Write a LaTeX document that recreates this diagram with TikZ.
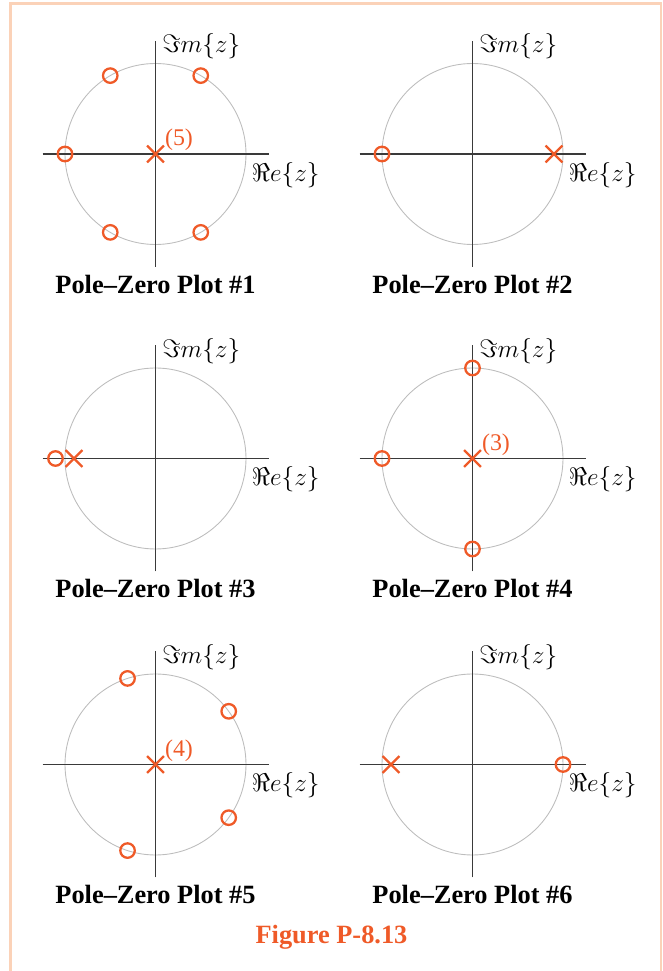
\documentclass[tikz,border=0pt]{standalone}
\usepackage{amsmath,amssymb}
\usepackage{fontspec}
\setmainfont{Liberation Serif}
\usepackage{xcolor}
\usepackage{tikz}
\usetikzlibrary{shapes.misc, calc}
\definecolor{pzorange}{HTML}{EF5A28}
\definecolor{pzgray}{HTML}{BDBDBD}
\definecolor{pzaxis}{HTML}{3A3A3A}
\definecolor{pzframe}{HTML}{FBD2B8}

\tikzset{
  unitcirc/.style={draw=pzgray, line width=0.5pt},
  axisline/.style={draw=pzaxis, line width=0.8pt},
  axlabel/.style={inner sep=0pt, font=\fontsize{13.4}{16}\selectfont},
  plottitle/.style={inner sep=0pt, font=\fontsize{15}{18}\selectfont\bfseries},
  zeromark/.style={circle, draw=pzorange, line width=1.3pt, minimum size=0.29cm, inner sep=0pt},
  polemark/.style={cross out, draw=pzorange, line width=1.3pt, minimum size=0.29cm, inner sep=0pt},
  ordlabel/.style={text=pzorange, inner sep=0pt, font=\fontsize{13.6}{16}\selectfont},
}

\begin{document}
\begin{tikzpicture}
  \useasboundingbox (0,0) rectangle (13.26,19.42);
  %% --- frame (open at the bottom) ---
  \draw[pzframe, line width=1.4pt] (0.21,0) -- (0.21,19.35) -- (13.22,19.35) -- (13.22,0);

  %% --- panel centres ---
  \coordinate (c1) at (3.11,16.34);
  \coordinate (c2) at (9.45,16.34);
  \coordinate (c3) at (3.11,10.25);
  \coordinate (c4) at (9.45,10.25);
  \coordinate (c5) at (3.11,4.13);
  \coordinate (c6) at (9.45,4.13);

  %% --- unit circle, axes and titles for all six plots ---
  \foreach \n in {1,...,6} {
    \begin{scope}[shift={(c\n)}]
      \draw[unitcirc] (0,0) circle (1.81);
      \draw[axisline] (-2.26,0) -- (2.26,0);
      \draw[axisline] (0,-2.26) -- (0,2.26);
      \node[axlabel, anchor=west] (im\n) at (0.13,2.15) {$\Im m\{z\}$};
      \node[axlabel, anchor=west] (re\n) at (1.92,-0.42) {$\Re e\{z\}$};
      \node[plottitle, anchor=base] (title\n) at (0,-2.79) {Pole--Zero Plot \#\n};
    \end{scope}
  }

  %% plot 1: five zeros on the circle, 5th-order pole at z=0
  \begin{scope}[shift={(c1)}]
    \foreach \a in {60,120,180,240,300}
      \node[zeromark] (z1-\a) at (\a:1.81) {};
    \node[polemark] (p1) at (0,0) {};
    \node[ordlabel] (o1) at (0.47,0.28) {(5)};
  \end{scope}

  %% plot 2
  \begin{scope}[shift={(c2)}]
    \node[zeromark] (z2) at (-1.81,0) {};
    \node[polemark] (p2) at (1.63,0) {};
  \end{scope}

  %% plot 3
  \begin{scope}[shift={(c3)}]
    \node[zeromark] (z3) at (-2.0,0) {};
    \node[polemark] (p3) at (-1.63,0) {};
  \end{scope}

  %% plot 4
  \begin{scope}[shift={(c4)}]
    \foreach \a in {90,180,270}
      \node[zeromark] (z4-\a) at (\a:1.81) {};
    \node[polemark] (p4) at (0,0) {};
    \node[ordlabel] (o4) at (0.47,0.27) {(3)};
  \end{scope}

  %% plot 5
  \begin{scope}[shift={(c5)}]
    \foreach \a in {36,108,252,324}
      \node[zeromark] (z5-\a) at (\a:1.81) {};
    \node[polemark] (p5) at (0,0) {};
    \node[ordlabel] (o5) at (0.47,0.27) {(4)};
  \end{scope}

  %% plot 6
  \begin{scope}[shift={(c6)}]
    \node[polemark] (p6) at (-1.63,0) {};
    \node[zeromark] (z6) at (1.81,0) {};
  \end{scope}

  %% --- caption ---
  \node[plottitle, text=pzorange, anchor=base] (caption) at (6.63,0.553) {Figure P-8.13};
\end{tikzpicture}
\end{document}
